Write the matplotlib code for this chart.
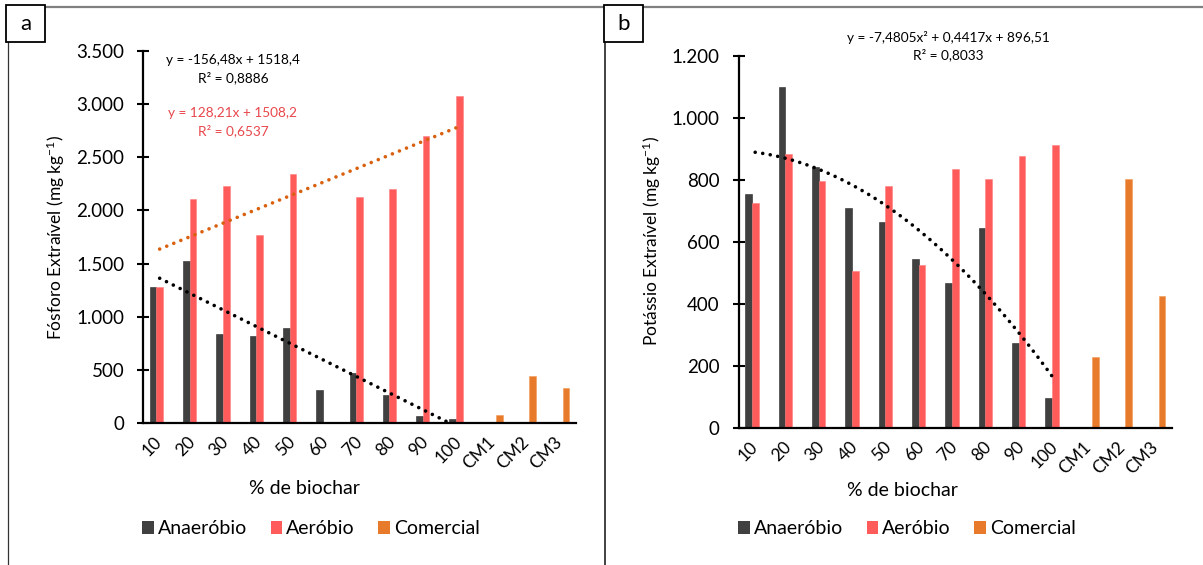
import numpy as np
import matplotlib
matplotlib.use("Agg")
import matplotlib.pyplot as plt
from matplotlib.patches import Rectangle
from matplotlib.lines import Line2D

plt.rcParams['font.family'] = ['Lato', 'DejaVu Sans']
plt.rcParams['mathtext.fontset'] = 'custom'
plt.rcParams['mathtext.rm'] = 'Lato'
plt.rcParams['mathtext.it'] = 'Lato:italic'

# ---------------- data ----------------
categories = ['10', '20', '30', '40', '50', '60', '70', '80', '90', '100', 'CM1', 'CM2', 'CM3']

# Panel a: Fósforo extraível (mg kg-1)
p_anaerobio = [1275, 1525, 840, 820, 895, 312, 474, 262, 68, 34]
p_aerobio = [1275, 2104, 2229, 1772, 2341, 0, 2124, 2206, 2704, 3076]
p_comercial = [75, 440, 325]
p_yticks = [0, 500, 1000, 1500, 2000, 2500, 3000, 3500]
p_yticklabels = ['0', '500', '1.000', '1.500', '2.000', '2.500', '3.000', '3.500']
p_trend_anaer = [-156.48, 1518.4]      # linear coefficients
p_trend_aer = [128.21, 1508.2]
p_eq_anaer = ['y = -156,48x + 1518,4', 'R² = 0,8886']
p_eq_aer = ['y = 128,21x + 1508,2', 'R² = 0,6537']

# Panel b: Potássio extraível (mg kg-1)
k_anaerobio = [756, 1100, 842, 711, 664, 544, 469, 646, 274, 96]
k_aerobio = [727, 884, 796, 505, 782, 526, 834, 803, 877, 913]
k_comercial = [228, 803, 426]
k_yticks = [0, 200, 400, 600, 800, 1000, 1200]
k_yticklabels = ['0', '200', '400', '600', '800', '1.000', '1.200']
k_trend_anaer = [-7.4805, 0.4417, 896.51]  # quadratic coefficients
k_eq_anaer = ['y = -7,4805x² + 0,4417x + 896,51', 'R² = 0,8033']

series_names = ['Anaeróbio', 'Aeróbio', 'Comercial']

# ---------------- style ----------------
W, H = 1203, 565
C_AN = '#404040'
C_AE = '#FF5B5B'
C_CO = '#E87A2C'
C_TR_AE = '#D8600E'
C_EQ_AE = '#E8474C'

fig = plt.figure(figsize=(W / 100, H / 100), dpi=100)


def fx(x):
    return x / W


def fy(y):
    return 1 - y / H


def make_panel(left_px, right_px, top_px, bottom_px, anaer, aer, com, yticks, yticklabels, ymax):
    ax = fig.add_axes([fx(left_px), fy(bottom_px), fx(right_px - left_px), (bottom_px - top_px) / H])
    idx = np.arange(len(categories))
    bw = 0.2
    n = len(anaer)
    ax.bar(idx[:n] - bw, anaer, bw, color=C_AN, edgecolor='#2a2a2a', linewidth=0.4, zorder=2)
    ax.bar(idx[:n], aer, bw, color=C_AE, edgecolor='#ff8080', linewidth=0.4, zorder=2)
    ax.bar(idx[n:] + bw, com, bw, color=C_CO, edgecolor='#f09a55', linewidth=0.4, zorder=2)
    ax.set_xlim(-0.5, len(categories) - 0.5)
    ax.set_ylim(0, ymax)
    ax.set_yticks(yticks)
    ax.set_yticklabels(yticklabels, fontsize=13.5)
    ax.set_xticks(idx)
    ax.set_xticklabels(categories, fontsize=12.5, rotation=45, ha='right', va='center',
                       rotation_mode='anchor')
    ax.tick_params(axis='x', length=0, pad=12)
    ax.tick_params(axis='y', direction='inout', length=9, width=1.5, pad=9)
    for s in ['top', 'right']:
        ax.spines[s].set_visible(False)
    for s in ['left', 'bottom']:
        ax.spines[s].set_linewidth(1.6)
        ax.spines[s].set_color('black')
    ax.spines['bottom'].set_zorder(3)
    return ax


dot_style = dict(linestyle=(0, (0.01, 2.1)), dash_capstyle='round', linewidth=2.6, zorder=4)

# ---- panel a ----
axa = make_panel(143, 576, 51, 423, p_anaerobio, p_aerobio, p_comercial,
                 p_yticks, p_yticklabels, 3500)
xs = np.linspace(1, 10, 200)
axa.plot(xs - 1, np.polyval(p_trend_anaer, xs), color='black', **dot_style)
axa.plot(xs - 1, np.polyval(p_trend_aer, xs), color=C_TR_AE, **dot_style)

# ---- panel b ----
axb = make_panel(738.5, 1172, 56, 428, k_anaerobio, k_aerobio, k_comercial,
                 k_yticks, k_yticklabels, 1200)
axb.plot(xs - 1, np.polyval(k_trend_anaer, xs), color='black', **dot_style)

# ---- axis labels ----
fig.text(fx(56), fy(237), 'Fósforo Extraível (mg kg$^{-1}$)', rotation=90,
         ha='center', va='center', fontsize=12.5)
fig.text(fx(652), fy(241), 'Potássio Extraível (mg kg$^{-1}$)', rotation=90,
         ha='center', va='center', fontsize=12.5)
fig.text(fx(304), fy(489), '% de biochar', ha='center', va='center', fontsize=14)
fig.text(fx(902), fy(490), '% de biochar', ha='center', va='center', fontsize=14)

# ---- equations ----
fs_eq = 9.8
fig.text(fx(233), fy(60), p_eq_anaer[0], ha='center', va='center', fontsize=fs_eq, color='black')
fig.text(fx(233), fy(78), p_eq_anaer[1], ha='center', va='center', fontsize=fs_eq, color='black')
fig.text(fx(233), fy(113), p_eq_aer[0], ha='center', va='center', fontsize=fs_eq, color=C_EQ_AE)
fig.text(fx(233), fy(131), p_eq_aer[1], ha='center', va='center', fontsize=fs_eq, color=C_EQ_AE)
fig.text(fx(948), fy(37), k_eq_anaer[0], ha='center', va='center', fontsize=fs_eq, color='black')
fig.text(fx(948), fy(55), k_eq_anaer[1], ha='center', va='center', fontsize=fs_eq, color='black')

# ---- legends ----
handles = [Rectangle((0, 0), 1, 1, facecolor=c, edgecolor='none') for c in (C_AN, C_AE, C_CO)]
for cx in (311, 907):
    fig.legend(handles, series_names, loc='center', bbox_to_anchor=(fx(cx), fy(529)),
               ncol=3, frameon=False, fontsize=14, handlelength=0.6, handleheight=0.6,
               handletextpad=0.2, columnspacing=1.2, borderaxespad=0)

# ---- frames ----
fig.add_artist(Line2D([fx(8), fx(1203)], [fy(6.5), fy(6.5)], color='#808080', linewidth=1.6))
fig.add_artist(Line2D([fx(8), fx(8)], [fy(42), fy(565)], color='#333333', linewidth=0.9))
fig.add_artist(Line2D([fx(605), fx(605)], [fy(42), fy(565)], color='#222222', linewidth=1.2))
for (x0, x1, lab) in ((6, 45, 'a'), (604, 643, 'b')):
    fig.add_artist(Rectangle((fx(x0), fy(42)), fx(x1 - x0), (42 - 5) / H, facecolor='white',
                             edgecolor='black', linewidth=1.3, zorder=5))
    fig.text(fx((x0 + x1) / 2), fy(24), lab, ha='center', va='center', fontsize=16, zorder=6)

fig.savefig('out.png', dpi=100)
